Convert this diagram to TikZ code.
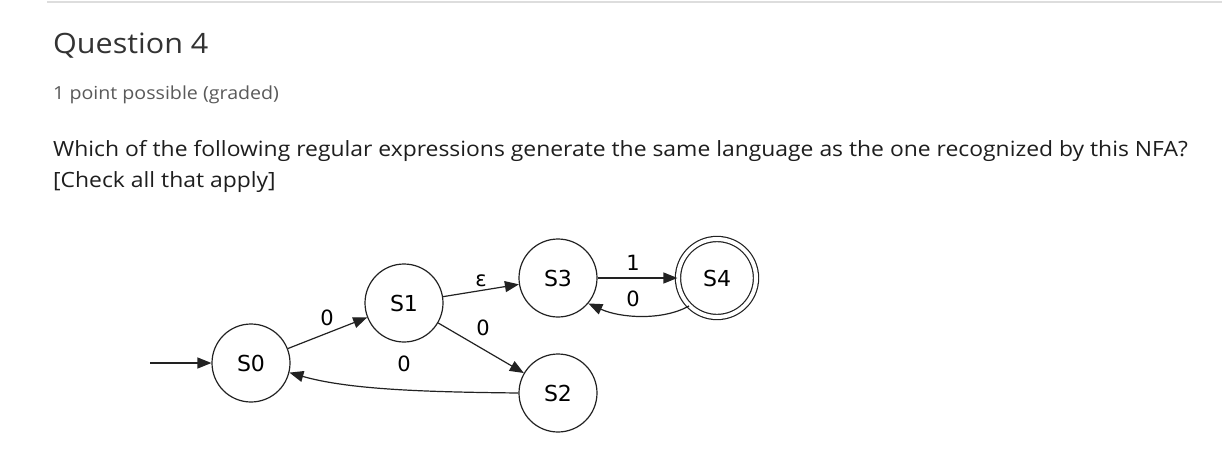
\documentclass[tikz,border=0pt]{standalone}
\usepackage{fontspec}
\setmainfont[FakeStretch=1.09]{Open Sans}
\newfontfamily\dejavu{DejaVu Sans}
\usetikzlibrary{arrows.meta}
\definecolor{qgray}{HTML}{333333}
\definecolor{sgray}{HTML}{5A5A5A}
\definecolor{tblack}{HTML}{1E1E1E}
\definecolor{rule}{HTML}{DDDDDD}
\definecolor{edge}{HTML}{222222}
\begin{document}
\begin{tikzpicture}[x=1pt,y=-1pt,
  state/.style={circle,draw=edge,line width=1.2pt,minimum size=78pt,inner sep=0pt,font=\dejavu\fontsize{22}{22}\selectfont},
  accept/.style={state,double=white,double distance=4pt,minimum size=78pt},
  tr/.style={draw=edge,line width=1.2pt,-{Triangle[length=14pt,width=11pt]}},
  lbl/.style={font=\dejavu\fontsize{21}{21}\selectfont,inner sep=0pt},
  txt/.style={anchor=base west,inner sep=0pt}]
\useasboundingbox (0,0) rectangle (1222,450);
\fill[white] (0,0) rectangle (1222,450);
\draw[rule,line width=1.2pt] (47,2) -- (1222,2);
\node[txt,text=qgray,font=\fontsize{28}{28}\selectfont] (q) at (53,53) {Question 4};
\node[txt,text=sgray,font=\fontsize{18}{18}\selectfont] (p) at (53,99) {1 point possible (graded)};
\node[txt,text=tblack,font=\fontsize{21}{21}\selectfont] (l1) at (53,156) {Which of the following regular expressions generate the same language as the one recognized by this NFA?};
\node[txt,text=tblack,font=\fontsize{21}{21}\selectfont] (l2) at (53,187) {[Check all that apply]};

\node[state] (s0) at (251,363) {S0};
\node[state] (s1) at (404,303) {S1};
\node[state] (s3) at (558,278) {S3};
\node[state] (s2) at (558,393) {S2};
\node[accept] (s4) at (717,278) {S4};
\coordinate (start) at (150,363);

\draw[tr] (start) -- (s0);
\draw[tr] (s0) -- (s1);
\draw[tr] (s1) -- (s3);
\draw[tr] (s1) -- (s2);
\draw[tr] (s3) -- (s4);
\draw[tr] (s4.225) .. controls (662,321) and (620,318) .. (s3.-40);
\draw[tr] (s2.west) .. controls (430,392) and (350,390) .. (s0.-14);

\node[lbl] (a) at (327,318) {0};
\node[lbl] (b) at (481,281) {ε};
\node[lbl] (c) at (483,328) {0};
\node[lbl] (d) at (404,364) {0};
\node[lbl] (e) at (633,263) {1};
\node[lbl] (f) at (633,299) {0};
\end{tikzpicture}
\end{document}
